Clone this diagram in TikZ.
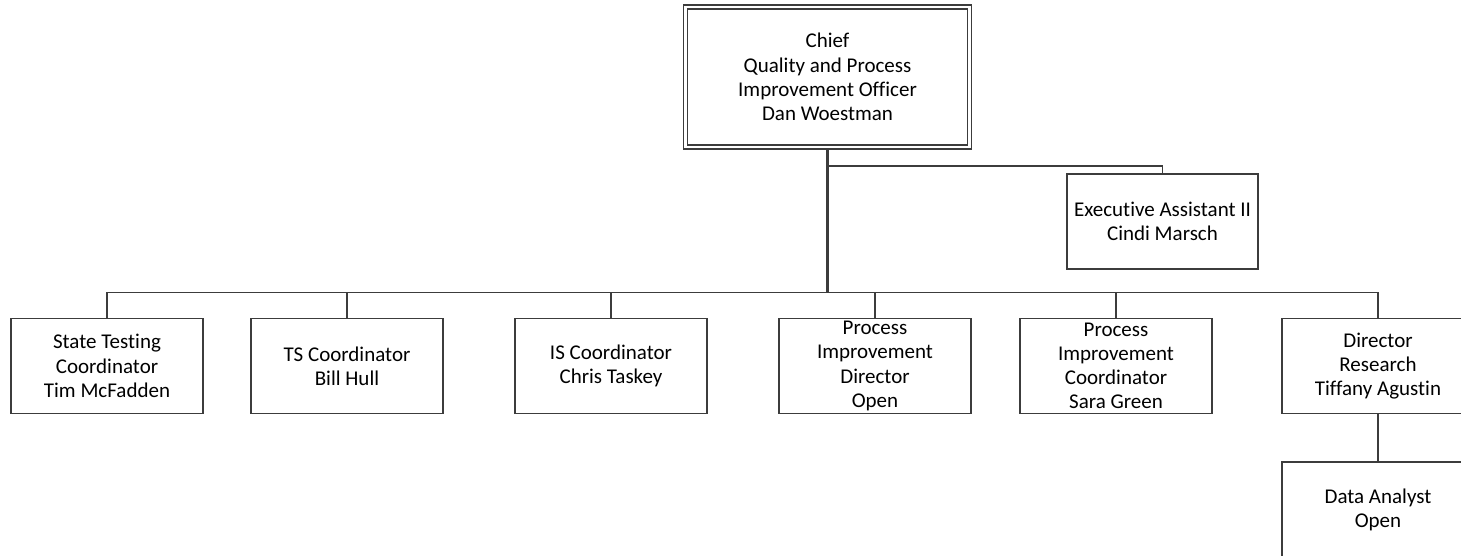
\documentclass[tikz,border=0pt]{standalone}
\usepackage{fontspec}
\setmainfont{Carlito}[Ligatures=NoCommon]
\definecolor{ln}{HTML}{3C3C3C}
\begin{document}
\begin{tikzpicture}[x=1pt,y=-1pt,
  box/.style={draw=ln, line width=1.4pt, minimum width=192pt, minimum height=95pt, inner sep=0pt, align=center, font=\fontsize{21}{24.2}\selectfont, text=black},
  chiefbox/.style={box, minimum width=284.5pt, minimum height=140pt, line width=1.3pt, double=white, double distance=2.7pt},
  conn/.style={draw=ln, line width=1.4pt},
  trunk/.style={draw=ln, line width=2.5pt}]
\useasboundingbox (0,0) rectangle (1461,556);
\clip (0,0) rectangle (1461,556);
\node[chiefbox] (chief) at (827.5,77) {Chief\\Quality and Process\\Improvement Officer\\Dan Woestman};
\node[box, minimum width=191pt] (ea) at (1162.5,221.5) {Executive Assistant II\\Cindi Marsch};
\node[box] (b1) at (107,366) {State Testing\\Coordinator\\Tim McFadden};
\node[box] (b2) at (347,366) {TS Coordinator\\Bill Hull};
\node[box] (b3) at (611,366) {IS Coordinator\\Chris Taskey};
\node[box] (b4) at (875,366) {Process\\Improvement\\Director\\Open};
\node[box] (b5) at (1116,366) {Process\\Improvement\\Coordinator\\Sara Green};
\node[box] (b6) at (1378,366) {Director\\Research\\Tiffany Agustin};
\node[box] (da) at (1378,509.5) {Data Analyst\\Open};
\coordinate (j1) at (827.5,166);
\coordinate (j2) at (827.5,292.5);
\draw[trunk, shorten <=2.4pt] (chief.south) -- (j2);
\draw[conn] (j1) -| (ea.north);
\foreach \b in {b1,b2,b3,b4,b5,b6} {\draw[conn] (j2) -| (\b.north);}
\draw[conn] (b6.south) -- (da.north);
\end{tikzpicture}
\end{document}
